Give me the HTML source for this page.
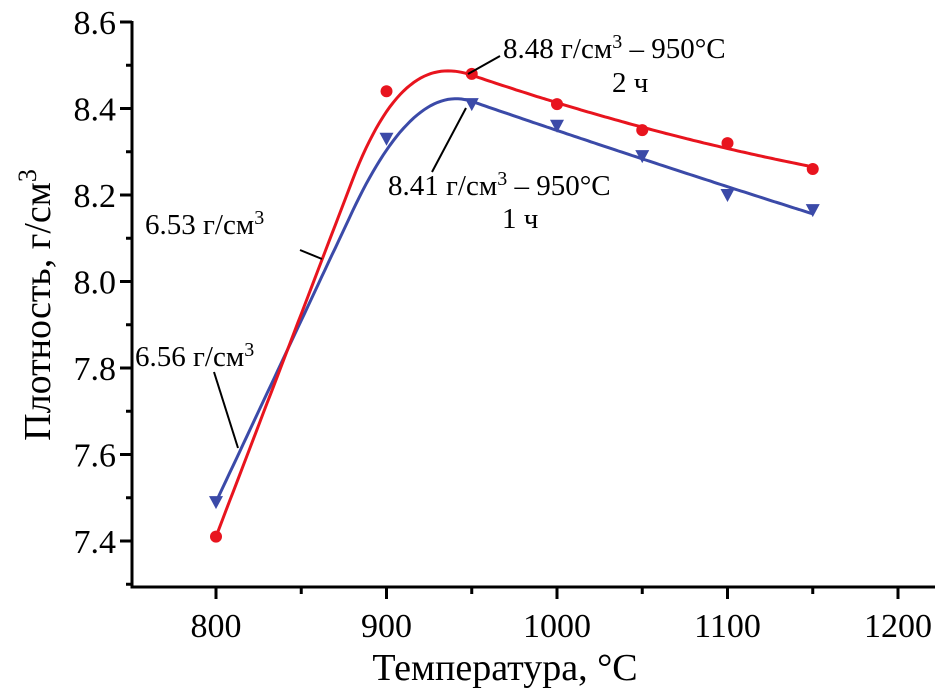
<!DOCTYPE html>
<html><head><meta charset="utf-8"><style>
body{margin:0;background:#fff}
svg text{font-family:"Liberation Serif","DejaVu Serif",serif;fill:#000}
</style></head><body>
<svg id="chart" width="941" height="695" xmlns="http://www.w3.org/2000/svg" font-family="Liberation Serif, serif">
<g id="axes"></g>
<g id="series"></g>
<g id="annot">
<line x1="468" y1="74" x2="500" y2="56" stroke="#000" stroke-width="2"/>
<text x="503" y="58" font-size="29">8.48 г/см<tspan dy="-10" font-size="20">3</tspan><tspan dy="10"> – 950°C</tspan></text>
<text x="612" y="92" font-size="29">2 ч</text>
<line x1="466" y1="108" x2="432" y2="172" stroke="#000" stroke-width="2"/>
<text x="388" y="195" font-size="29">8.41 г/см<tspan dy="-10" font-size="20">3</tspan><tspan dy="10"> – 950°C</tspan></text>
<text x="502" y="228" font-size="29">1 ч</text>
<line x1="300" y1="250" x2="322" y2="259" stroke="#000" stroke-width="2"/>
<text x="145" y="234" font-size="29">6.53 г/см<tspan dy="-10" font-size="20">3</tspan></text>
<line x1="214" y1="372" x2="238" y2="448" stroke="#000" stroke-width="2"/>
<text x="135" y="366" font-size="29">6.56 г/см<tspan dy="-10" font-size="20">3</tspan></text>
</g>
<text x="505" y="680" font-size="38" text-anchor="middle">Температура, °C</text>
<text transform="translate(50,305) rotate(-90)" font-size="38" text-anchor="middle">Плотность, г/см<tspan dy="-14" font-size="26">3</tspan></text>
</svg>
<script>
const temps=[800,900,950,1000,1050,1100,1150];
const red2h=[7.41,8.44,8.48,8.41,8.35,8.32,8.26];
const blue1h=[7.49,8.33,8.41,8.36,8.29,8.20,8.165];
const xTicks=[800,900,1000,1100,1200];
const yTicks=[7.4,7.6,7.8,8.0,8.2,8.4,8.6];
const X=v=>216+(v-800)*1.705;
const Y=v=>541-(v-7.4)*432.5;
const NS="http://www.w3.org/2000/svg";
const FF="Liberation Serif, DejaVu Serif, serif";
function mk(t,a,p){const e=document.createElementNS(NS,t);for(const k in a)e.setAttribute(k,a[k]);p.appendChild(e);return e;}
const ax=document.getElementById('axes');
mk('path',{d:'M132 21V587H935',fill:'none',stroke:'#000','stroke-width':3},ax);
xTicks.forEach(t=>{
 const l=mk('line',{x1:X(t),x2:X(t),y1:587,y2:599,stroke:'#000','stroke-width':3},ax);
 
 
 mk('line',{x1:X(t+50),x2:X(t+50),y1:587,y2:594,stroke:'#000','stroke-width':3},ax);
 const tx=mk('text',{x:X(t),y:637,'font-size':34,'text-anchor':'middle','font-family':FF},ax);tx.textContent=t;
 
 
});
yTicks.forEach(t=>{
 const l=mk('line',{x1:120,x2:132,y1:Y(t),y2:Y(t),stroke:'#000','stroke-width':3},ax);
 
 
 mk('line',{x1:126,x2:132,y1:Y(t-0.1),y2:Y(t-0.1),stroke:'#000','stroke-width':3},ax);
 const tx=mk('text',{x:116,y:Y(t)+12,'font-size':34,'text-anchor':'end','font-family':FF},ax);tx.textContent=t.toFixed(1);
 
 
});
// smooth fitted curve: linear rise, Hermite to peak, quadratic LS fit on decline
function fitCurve(vals){
 const xs=temps.slice(2),ys=vals.slice(2),n=xs.length;
 const u=xs.map(x=>(x-1050)/100);
 let S=[0,0,0,0,0],T=[0,0,0];
 u.forEach((v,i)=>{for(let k=0;k<5;k++)S[k]+=Math.pow(v,k);for(let k=0;k<3;k++)T[k]+=ys[i]*Math.pow(v,k);});
 const A=[[S[0],S[1],S[2]],[S[1],S[2],S[3]],[S[2],S[3],S[4]]];
 const det=m=>m[0][0]*(m[1][1]*m[2][2]-m[1][2]*m[2][1])-m[0][1]*(m[1][0]*m[2][2]-m[1][2]*m[2][0])+m[0][2]*(m[1][0]*m[2][1]-m[1][1]*m[2][0]);
 const D=det(A);
 const c=[0,1,2].map(j=>det(A.map((r,i)=>r.map((v,k)=>k===j?T[i]:v)))/D);
 const q=x=>{const v=(x-1050)/100;return c[0]+c[1]*v+c[2]*v*v;};
 const qd=x=>{const v=(x-1050)/100;return (c[1]+2*c[2]*v)/100;};
 const s0=(vals[1]-vals[0])/(temps[1]-temps[0]);
 const xa=880,xb=950,pa=vals[0]+s0*(xa-temps[0]),pb=q(xb),h=xb-xa,mb=qd(xb);
 const f=x=>{
  if(x<=xa)return vals[0]+s0*(x-temps[0]);
  if(x>=xb)return q(x);
  const t=(x-xa)/h,t2=t*t,t3=t2*t;
  return (2*t3-3*t2+1)*pa+(t3-2*t2+t)*h*s0+(-2*t3+3*t2)*pb+(t3-t2)*h*mb;
 };
 let d='';
 for(let x=temps[0];x<=temps[temps.length-1];x+=2)d+=(d?'L':'M')+X(x).toFixed(1)+' '+Y(f(x)).toFixed(1);
 return d;
}
const s=document.getElementById('series');
const lb=mk('path',{d:fitCurve(blue1h),fill:'none',stroke:'#3b4aa8','stroke-width':3},s);


const lr=mk('path',{d:fitCurve(red2h),fill:'none',stroke:'#e8141e','stroke-width':3},s);


temps.forEach((t,i)=>{
 const c=mk('circle',{cx:X(t),cy:Y(red2h[i]),r:6,fill:'#e8141e'},s);
 
 
 const x=X(t),y=Y(blue1h[i]);
 const tr=mk('polygon',{points:`${x-7},${y-6} ${x+7},${y-6} ${x},${y+7}`,fill:'#3b4aa8'},s);
 
 
});
</script>
</body></html>
